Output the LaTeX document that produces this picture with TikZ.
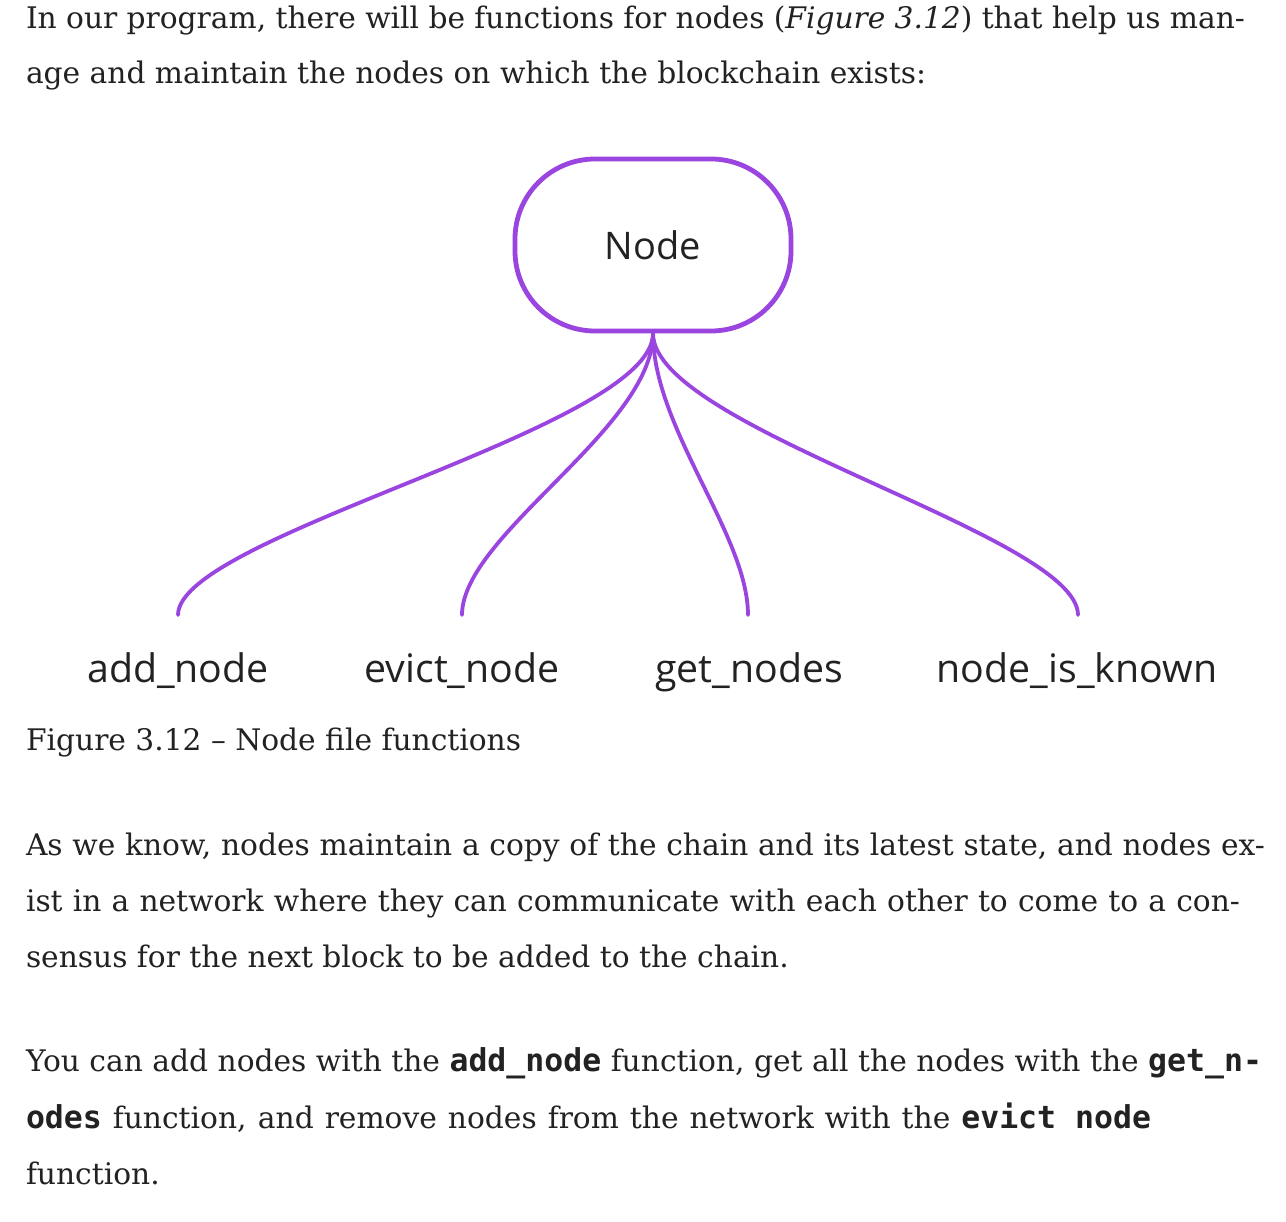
\documentclass[tikz,border=0pt]{standalone}
\usepackage{fontspec}
\setmainfont{DejaVu Serif}
\newfontfamily\labfont{Open Sans}
\newfontfamily\codefont{DejaVu Sans Mono}
\definecolor{purp}{HTML}{9B45E0}
\definecolor{txtc}{HTML}{222222}
\newcommand\cd[1]{\mbox{\fontsize{31.5}{33}\codefont\bfseries #1}}
\tikzset{
  txt/.style={anchor=base west, inner sep=0pt, outer sep=0pt, text=txtc,
    font=\fontsize{29.7}{33}\selectfont},
  lab/.style={anchor=base, inner sep=0pt, text=txtc,
    font=\fontsize{39.3}{44}\labfont},
  boxnode/.style={draw=purp, line width=4.8pt, rounded corners=80pt,
    minimum width=276pt, minimum height=172pt, inner sep=0pt, text=txtc,
    font=\fontsize{38}{44}\labfont},
  link/.style={draw=purp, line width=3.8pt, line cap=round},
}
\begin{document}
\begin{tikzpicture}[x=1pt,y=-1pt]
\useasboundingbox[fill=white] (0,0) rectangle (1286,1222);
% paragraph 1
\node[txt] (p1a) at (26,29) {\makebox[1219pt][s]{In our program, there will be functions for nodes (\textit{Figure 3.12}) that help us man-}};
\node[txt] (p1b) at (26,84) {age and maintain the nodes on which the blockchain exists:};
% diagram
\node[boxnode] (root) at (653,245) {Node};
\coordinate (e1) at (178,615);
\coordinate (e2) at (462,615);
\coordinate (e3) at (748,615);
\coordinate (e4) at (1078,615);
\node[lab] (l1) at (178,682) {add\_node};
\node[lab] (l2) at (462,682) {evict\_node};
\node[lab] (l3) at (749,682) {get\_nodes};
\node[lab] (l4) at (1077,682) {node\_is\_known};
\draw[link] (root.south) .. controls +(0,95) and +(0,-80) .. (e1);
\draw[link] (root.south) .. controls +(0,95) and +(0,-80) .. (e2);
\draw[link] (root.south) .. controls +(0,95) and +(0,-80) .. (e3);
\draw[link] (root.south) .. controls +(0,95) and +(0,-80) .. (e4);
% caption
\node[txt] (cap) at (26,750) {Figure 3.12 -- Node file functions};
% paragraph 2
\node[txt] (p2a) at (26,855) {\makebox[1239pt][s]{As we know, nodes maintain a copy of the chain and its latest state, and nodes ex-}};
\node[txt] (p2b) at (26,911) {\makebox[1214pt][s]{ist in a network where they can communicate with each other to come to a con-}};
\node[txt] (p2c) at (26,967) {sensus for the next block to be added to the chain.};
% paragraph 3
\node[txt] (p3a) at (26,1071) {\makebox[1236pt][s]{You can add nodes with the \cd{add\_node} function, get all the nodes with the \cd{get\_n-}}};
\node[txt] (p3b) at (26,1128) {\makebox[1125pt][s]{\cd{odes} function, and remove nodes from the network with the \cd{evict node}}};
\node[txt] (p3c) at (26,1184) {function.};
\end{tikzpicture}
\end{document}
